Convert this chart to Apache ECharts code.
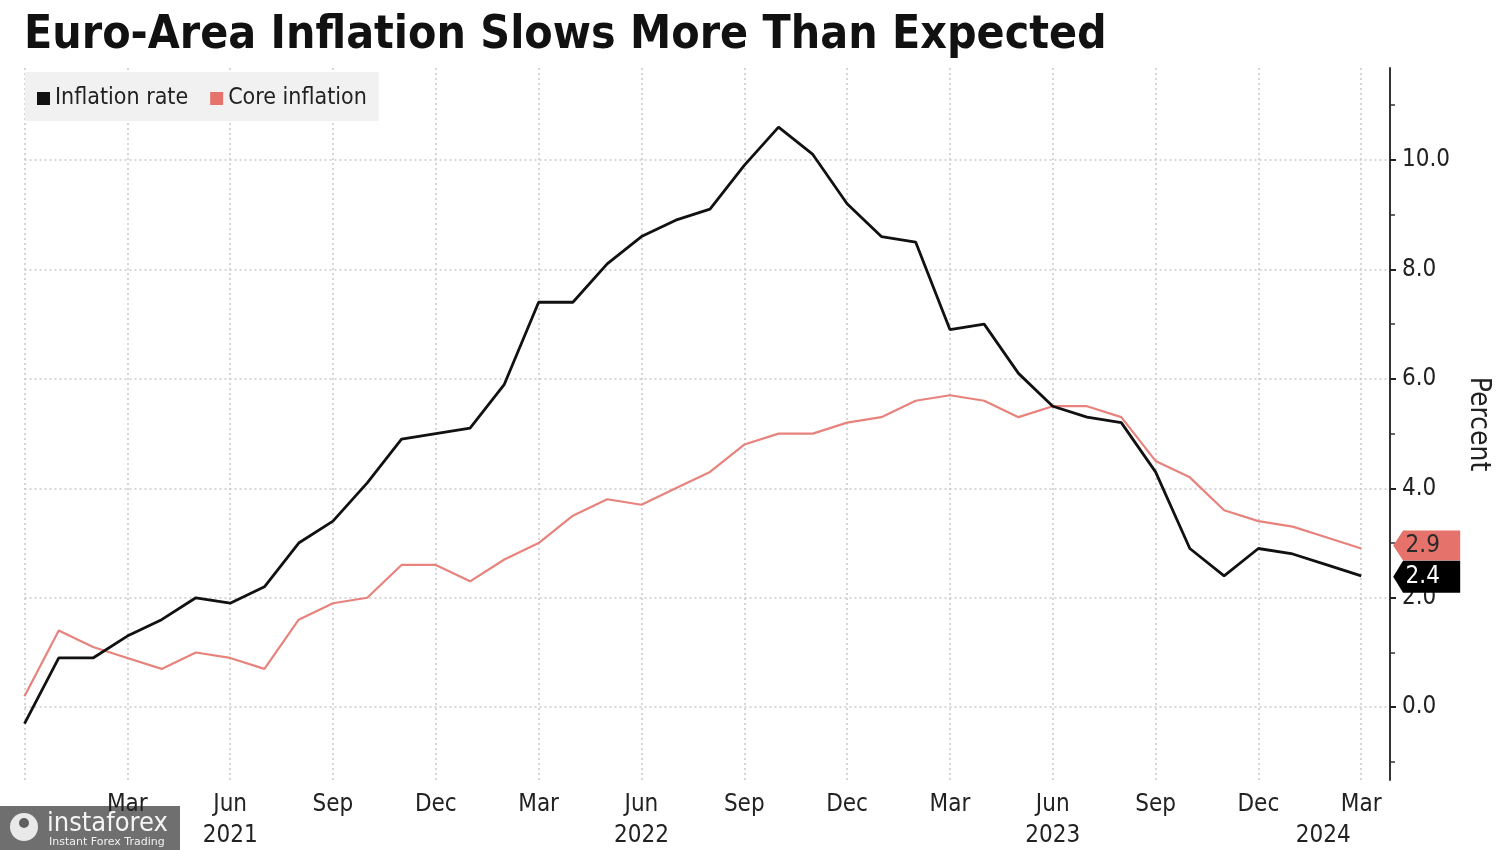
<!DOCTYPE html>
<html>
<head>
<meta charset="utf-8">
<script src="https://cdn.jsdelivr.net/npm/echarts@6/dist/echarts.min.js"></script>
<style>
html,body{margin:0;padding:0;background:#fff;overflow:hidden;}
#chart{width:1500px;height:850px;}
</style>
</head>
<body>
<div id="chart"></div>
<script>
// ---- data ----
const months = [
  '2020-12',
  '2021-01','2021-02','2021-03','2021-04','2021-05','2021-06','2021-07','2021-08','2021-09','2021-10','2021-11','2021-12',
  '2022-01','2022-02','2022-03','2022-04','2022-05','2022-06','2022-07','2022-08','2022-09','2022-10','2022-11','2022-12',
  '2023-01','2023-02','2023-03','2023-04','2023-05','2023-06','2023-07','2023-08','2023-09','2023-10','2023-11','2023-12',
  '2024-01','2024-02','2024-03'
];
const inflationRate = [
  -0.3,
  0.9, 0.9, 1.3, 1.6, 2.0, 1.9, 2.2, 3.0, 3.4, 4.1, 4.9, 5.0,
  5.1, 5.9, 7.4, 7.4, 8.1, 8.6, 8.9, 9.1, 9.9, 10.6, 10.1, 9.2,
  8.6, 8.5, 6.9, 7.0, 6.1, 5.5, 5.3, 5.2, 4.3, 2.9, 2.4, 2.9,
  2.8, 2.6, 2.4
];
const coreInflation = [
  0.2,
  1.4, 1.1, 0.9, 0.7, 1.0, 0.9, 0.7, 1.6, 1.9, 2.0, 2.6, 2.6,
  2.3, 2.7, 3.0, 3.5, 3.8, 3.7, 4.0, 4.3, 4.8, 5.0, 5.0, 5.2,
  5.3, 5.6, 5.7, 5.6, 5.3, 5.5, 5.5, 5.3, 4.5, 4.2, 3.6, 3.4,
  3.3, 3.1, 2.9
];
const yTickValues = [0, 2, 4, 6, 8, 10];
const yMinorTickValues = [-1, 1, 3, 5, 7, 9, 11];
const monthNames = {'03':'Mar','06':'Jun','09':'Sep','12':'Dec'};

// ---- derived ----
const lastIdx = months.length - 1;
const quarterIdx = months.map((m, i) => i).filter(i => i % 3 === 0);
const labelIdx = quarterIdx.filter(i => i > 0);
const toPairs = arr => arr.map((v, i) => [i, v]);

const FONT = "'DejaVu Sans Condensed', 'DejaVu Sans', sans-serif";
const BLACK = '#111111';
const PINK = '#e5736b';
const GRID_COLOR = '#c9c9c9';

const chart = echarts.init(document.getElementById('chart'), null, {renderer: 'canvas'});

const xMax = 39.84;

const option = {
  backgroundColor: '#ffffff',
  animation: false,
  title: {
    text: 'Euro-Area Inflation Slows More Than Expected',
    left: 24, top: 13, padding: 0,
    textStyle: {fontFamily: FONT, fontWeight: 'bold', fontSize: 46, color: '#111'}
  },
  legend: {
    left: 25, top: 72,
    padding: [15, 12, 11, 12],
    backgroundColor: '#f1f1f1',
    icon: 'rect', itemWidth: 13, itemHeight: 13, itemGap: 22,
    textStyle: {fontFamily: FONT, fontSize: 23, color: '#222'},
    data: ['Inflation rate', 'Core inflation']
  },
  grid: {left: 24.5, right: 110, top: 68, bottom: 70, containLabel: false, outerBoundsMode: 'none'},
  xAxis: [{
    type: 'value', min: 0, max: xMax,
    axisLine: {show: false, onZero: false},
    axisTick: {show: false, customValues: quarterIdx},
    splitLine: {show: true, lineStyle: {color: GRID_COLOR, type: [2, 3], width: 1.5}},
    axisLabel: {
      customValues: labelIdx,
      margin: 13, fontFamily: FONT, fontSize: 24, color: '#222',
      formatter: v => monthNames[months[Math.round(v)].slice(5)]
    }
  }, {
    type: 'value', min: 0, max: xMax, position: 'bottom',
    axisLine: {show: false, onZero: false},
    axisTick: {show: false},
    splitLine: {show: false},
    axisLabel: {
      customValues: [6, 18, 30, 37.89],
      margin: 44, fontFamily: FONT, fontSize: 24, color: '#222',
      formatter: v => months[Math.round(v)].slice(0, 4)
    }
  }],
  yAxis: [{
    type: 'value', position: 'right', min: -1.33, max: 11.68,
    axisLine: {show: true, onZero: false, lineStyle: {color: '#333', width: 2}},
    axisTick: {show: true, length: 6, customValues: yTickValues, lineStyle: {color: '#222', width: 2}},
    splitLine: {show: true, lineStyle: {color: GRID_COLOR, type: [2, 3], width: 1.5}},
    axisLabel: {
      customValues: yTickValues, margin: 12,
      fontFamily: FONT, fontSize: 24, color: '#222',
      padding: [5, 0, 0, 0],
      formatter: v => v.toFixed(1)
    },
    name: 'Percent', nameLocation: 'middle', nameRotate: -90, nameGap: 74,
    nameTextStyle: {fontFamily: FONT, fontSize: 28, color: '#222'}
  }, {
    type: 'value', position: 'right', min: -1.33, max: 11.68,
    axisLine: {show: false, onZero: false},
    axisTick: {show: true, length: 5, customValues: yMinorTickValues, lineStyle: {color: '#333', width: 1.5}},
    splitLine: {show: false},
    axisLabel: {show: false}
  }],
  series: [{
    name: 'Inflation rate', type: 'line', xAxisIndex: 0, yAxisIndex: 0,
    data: toPairs(inflationRate),
    showSymbol: false, symbol: 'none',
    itemStyle: {color: BLACK},
    lineStyle: {color: BLACK, width: 2.8},
    z: 3,
    markPoint: {
      silent: true, z: 12,
      data: [{coord: [lastIdx, inflationRate[lastIdx]], value: inflationRate[lastIdx].toFixed(1)}],
      symbol: 'path://M0,16 L10,0 L68,0 L68,32 L10,32 Z',
      symbolSize: [67, 32], symbolOffset: [65.5, 1], symbolKeepAspect: false,
      itemStyle: {color: '#000'},
      label: {show: true, position: 'inside', offset: [-4, 0], color: '#fff', fontFamily: FONT, fontSize: 24}
    }
  }, {
    name: 'Core inflation', type: 'line', xAxisIndex: 0, yAxisIndex: 0,
    data: toPairs(coreInflation),
    showSymbol: false, symbol: 'none',
    itemStyle: {color: PINK},
    lineStyle: {color: '#e7837c', width: 2.2},
    z: 2,
    markPoint: {
      silent: true, z: 10,
      data: [{coord: [lastIdx, coreInflation[lastIdx]], value: coreInflation[lastIdx].toFixed(1)}],
      symbol: 'path://M0,15 L10,0 L68,0 L68,30 L10,30 Z',
      symbolSize: [67, 30], symbolOffset: [65.5, -3], symbolKeepAspect: false,
      itemStyle: {color: PINK},
      label: {show: true, position: 'inside', offset: [-4, 0], color: '#2a2a2a', fontFamily: FONT, fontSize: 24}
    }
  }],
  graphic: [{
    type: 'group', left: 0, top: 806, z: 100,
    children: [
      {type: 'rect', shape: {x: 0, y: 0, width: 180, height: 44}, style: {fill: 'rgba(95,95,95,0.9)'}},
      {type: 'circle', shape: {cx: 24, cy: 21, r: 14}, style: {fill: 'rgba(255,255,255,0.85)'}},
      {type: 'circle', shape: {cx: 24, cy: 17, r: 5}, style: {fill: 'rgba(95,95,95,1)'}},
      {type: 'text', x: 47, y: 4, style: {text: 'instaforex', fill: 'rgba(255,255,255,0.92)', font: "27px 'DejaVu Sans Condensed', sans-serif"}},
      {type: 'text', x: 49, y: 31, style: {text: 'Instant Forex Trading', fill: 'rgba(255,255,255,0.9)', font: "11px 'DejaVu Sans', sans-serif"}}
    ]
  }]
};
chart.setOption(option);
</script>
</body>
</html>
